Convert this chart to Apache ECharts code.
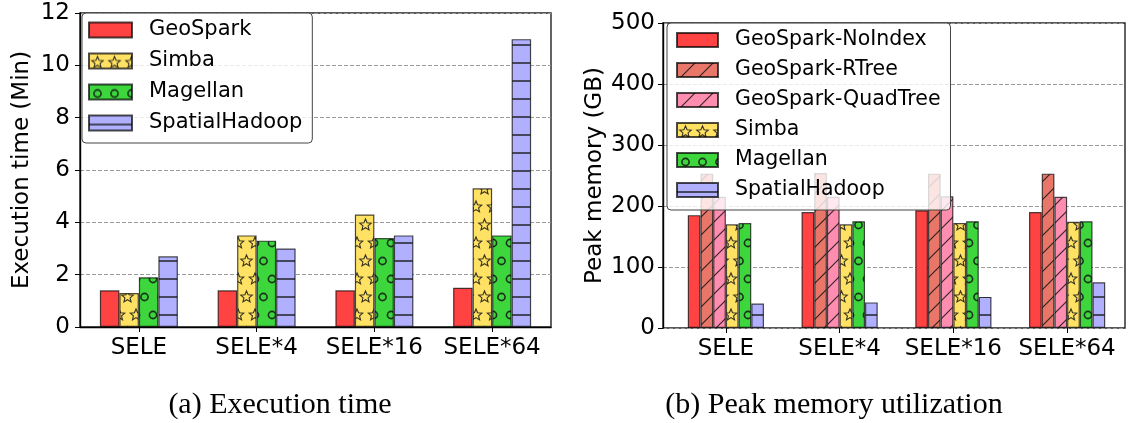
<!DOCTYPE html>
<html>
  <head>
    <meta charset="utf-8" />
    <title>Execution time and peak memory</title>
    <script src="https://cdnjs.cloudflare.com/ajax/libs/echarts/6.0.0/echarts.min.js"></script>
  </head>
  <body>
    <style>
      html, body { margin: 0; padding: 0; background: #fff; }
      #main { width: 1130px; height: 423px; }
    </style>
    <div id="main"></div>
    <script type="text/javascript">
      var categories = ['SELE', 'SELE*4', 'SELE*16', 'SELE*64'];

      // (a) execution time, minutes
      var timeGeoSpark = [1.4, 1.4, 1.4, 1.5];
      var timeSimba = [1.3, 3.5, 4.3, 5.3];
      var timeMagellan = [1.9, 3.3, 3.4, 3.5];
      var timeSpatialHadoop = [2.7, 3.0, 3.5, 11.0];

      // (b) peak memory, GB
      var memNoIndex = [185, 190, 193, 190];
      var memRTree = [253, 254, 253, 253];
      var memQuadTree = [215, 215, 216, 215];
      var memSimba = [170, 170, 172, 174];
      var memMagellan = [172, 175, 175, 175];
      var memSpatialHadoop = [40, 42, 51, 75];

      var FONT = '"DejaVu Sans", sans-serif';
      var INK = 'rgba(20,20,20,0.85)';

      // hatch fills drawn on a small canvas tile
      function makePattern(bg, kind) {
        var sizes = { slash: [18, 18], star: [17, 36], circle: [17, 36], hline: [8, 18] };
        var w = sizes[kind][0], h = sizes[kind][1];
        var c = document.createElement('canvas');
        c.width = w; c.height = h;
        var g = c.getContext('2d');
        g.fillStyle = bg;
        g.fillRect(0, 0, w, h);
        g.strokeStyle = INK;
        g.lineWidth = 1.2;
        if (kind === 'slash') {
          g.beginPath();
          g.moveTo(0, h); g.lineTo(w, 0);
          g.moveTo(-2, 2); g.lineTo(2, -2);
          g.moveTo(w - 2, h + 2); g.lineTo(w + 2, h - 2);
          g.stroke();
        } else if (kind === 'hline') {
          g.lineWidth = 1.6;
          g.beginPath();
          g.moveTo(0, 9); g.lineTo(w, 9);
          g.stroke();
        } else if (kind === 'star') {
          [[w / 2, 9], [0, 27], [w, 27]].forEach(function (p) { star(g, p[0], p[1], 6, bg); });
        } else if (kind === 'circle') {
          [[w / 2, 9], [0, 27], [w, 27]].forEach(function (p) {
            g.beginPath();
            g.arc(p[0], p[1], 3.6, 0, Math.PI * 2);
            g.lineWidth = 1.6;
            g.stroke();
          });
        }
        return { image: c, repeat: 'repeat' };
      }

      function star(g, cx, cy, r, bg) {
        g.beginPath();
        for (var i = 0; i < 10; i++) {
          var rr = i % 2 === 0 ? r : r * 0.45;
          var a = -Math.PI / 2 + i * Math.PI / 5;
          var x = cx + rr * Math.cos(a), y = cy + rr * Math.sin(a);
          if (i === 0) g.moveTo(x, y); else g.lineTo(x, y);
        }
        g.closePath();
        g.fillStyle = bg;
        g.fill();
        g.lineWidth = 1.1;
        g.stroke();
      }

      var RED = '#ff4242', SALMON = '#e8776a', PINK = '#ff8db0';
      var YELLOW = '#ffe264', GREEN = '#3dd63d', LAVENDER = '#b0b0ff';

      function bar(name, data, fill, gi, width) {
        return {
          name: name,
          type: 'bar',
          xAxisIndex: gi,
          yAxisIndex: gi,
          data: data,
          barWidth: width,
          barGap: '0%',
          itemStyle: { color: fill, borderColor: 'rgba(0,0,0,0.7)', borderWidth: 1.2 },
          emphasis: { disabled: true }
        };
      }

      var chart = echarts.init(document.getElementById('main'));

      var axisText = { color: '#000', fontSize: 23, fontFamily: FONT };
      var gridLine = { show: true, lineStyle: { color: '#9a9a9a', type: [4, 2], width: 1 } };
      var blackLine = { show: true, lineStyle: { color: '#000', width: 1.4 } };
      var tick = { show: true, length: 5, lineStyle: { color: '#000' } };

      function catAxis(gi, withLine) {
        return {
          type: 'category',
          gridIndex: gi,
          data: categories,
          axisLine: withLine ? blackLine : { show: false },
          axisTick: { show: true, alignWithLabel: true, length: 5, lineStyle: { color: '#000' } },
          axisLabel: Object.assign({ margin: 10, interval: 0, hideOverlap: false }, axisText),
          splitLine: { show: false }
        };
      }

      var option = {
        animation: false,
        textStyle: { fontFamily: FONT },
        grid: [
          // (a)
          { left: 80, top: 13, width: 471, height: 314, show: true, borderColor: '#222', borderWidth: 1.4, backgroundColor: 'transparent' },
          // (b) frame + y axis
          { left: 663, top: 23, width: 462, height: 305, show: true, borderColor: '#222', borderWidth: 1.4, backgroundColor: 'transparent' },
          // (b) bars, bands shifted to match the figure's x margins
          { left: 669, top: 23, width: 455, height: 305 }
        ],
        xAxis: [
          catAxis(0, true),
          { type: 'category', gridIndex: 1, data: categories, show: false },
          catAxis(2, false)
        ],
        yAxis: [
          {
            type: 'value', gridIndex: 0, min: 0, max: 12, interval: 2,
            name: 'Execution time (Min)', nameLocation: 'middle', nameGap: 46,
            nameTextStyle: axisText,
            axisLine: blackLine, axisTick: tick,
            axisLabel: Object.assign({ margin: 10 }, axisText),
            splitLine: gridLine
          },
          {
            type: 'value', gridIndex: 1, min: 0, max: 500, interval: 100,
            name: 'Peak memory (GB)', nameLocation: 'middle', nameGap: 56,
            nameTextStyle: axisText,
            axisLine: blackLine, axisTick: tick,
            axisLabel: Object.assign({ margin: 8 }, axisText),
            splitLine: gridLine
          },
          { type: 'value', gridIndex: 2, min: 0, max: 500, show: false, splitLine: { show: false } }
        ],
        legend: [
          {
            data: ['GeoSpark', 'Simba', 'Magellan', 'SpatialHadoop'],
            orient: 'vertical', left: 82, top: 13, icon: 'rect',
            itemWidth: 43, itemHeight: 15, itemGap: 9,
            padding: [6, 10, 9, 6],
            backgroundColor: 'rgba(255,255,255,0.8)',
            borderColor: '#444', borderWidth: 1, borderRadius: 4,
            textStyle: { color: '#000', fontSize: 21, fontFamily: FONT, lineHeight: 22, padding: [0, 0, 0, 12] }
          },
          {
            data: ['GeoSpark-NoIndex', 'GeoSpark-RTree', 'GeoSpark-QuadTree', 'Simba ', 'Magellan ', 'SpatialHadoop '],
            orient: 'vertical', left: 667, top: 23, icon: 'rect',
            itemWidth: 41, itemHeight: 14, itemGap: 8,
            padding: [6, 10, 9, 9],
            backgroundColor: 'rgba(255,255,255,0.8)',
            borderColor: '#444', borderWidth: 1, borderRadius: 4,
            textStyle: { color: '#000', fontSize: 20.5, fontFamily: FONT, lineHeight: 22, padding: [0, 0, 0, 12] }
          }
        ],
        graphic: [
          { type: 'text', x: 280, y: 405, style: { text: '(a) Execution time', fill: '#000', font: '30px "Liberation Serif", serif', textAlign: 'center', textVerticalAlign: 'middle' } },
          { type: 'text', x: 834, y: 405, style: { text: '(b) Peak memory utilization', fill: '#000', font: '30px "Liberation Serif", serif', textAlign: 'center', textVerticalAlign: 'middle' } }
        ],
        series: [
          bar('GeoSpark', timeGeoSpark, RED, 0, 19.5),
          bar('Simba', timeSimba, makePattern(YELLOW, 'star'), 0, 19.5),
          bar('Magellan', timeMagellan, makePattern(GREEN, 'circle'), 0, 19.5),
          bar('SpatialHadoop', timeSpatialHadoop, makePattern(LAVENDER, 'hline'), 0, 19.5),

          bar('GeoSpark-NoIndex', memNoIndex, RED, 2, 12.7),
          bar('GeoSpark-RTree', memRTree, makePattern(SALMON, 'slash'), 2, 12.7),
          bar('GeoSpark-QuadTree', memQuadTree, makePattern(PINK, 'slash'), 2, 12.7),
          bar('Simba ', memSimba, makePattern(YELLOW, 'star'), 2, 12.7),
          bar('Magellan ', memMagellan, makePattern(GREEN, 'circle'), 2, 12.7),
          bar('SpatialHadoop ', memSpatialHadoop, makePattern(LAVENDER, 'hline'), 2, 12.7)
        ]
      };

      chart.setOption(option);
    </script>
  </body>
</html>
